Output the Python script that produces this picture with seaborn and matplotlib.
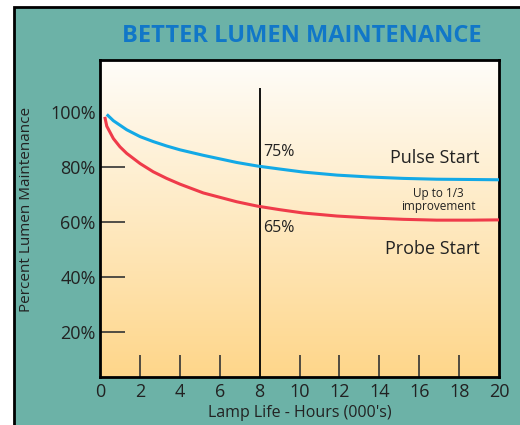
import numpy as np
import pandas as pd
import seaborn as sns
import matplotlib.pyplot as plt
from matplotlib.patches import Rectangle
from matplotlib.colors import LinearSegmentedColormap

# lamp life (000's hours) vs percent lumen maintenance
pulse_hours = [0.34, 0.67, 1.34, 2.01, 2.67, 3.34, 4.01, 5.18, 6.85, 7.89, 9.02, 10.19,
               11.87, 13.54, 15.2, 16.88, 18.55, 20.0]
pulse_pct = [99.2, 96.9, 93.6, 91.1, 89.3, 87.7, 86.3, 84.3, 81.7, 80.4, 79.3, 78.2,
             77.1, 76.4, 75.9, 75.6, 75.5, 75.4]
probe_hours = [0.24, 0.34, 0.67, 1.0, 1.34, 2.01, 2.67, 3.34, 4.01, 5.18, 6.85, 7.89,
               9.02, 10.19, 11.87, 13.54, 15.2, 16.88, 18.55, 20.0]
probe_pct = [98.3, 94.9, 90.4, 87.4, 85.0, 81.3, 78.3, 75.9, 73.8, 70.6, 67.4, 65.8,
             64.5, 63.3, 62.2, 61.5, 61.0, 60.7, 60.7, 60.8]

x_ticks = [0, 2, 4, 6, 8, 10, 12, 14, 16, 18, 20]
y_ticks = [20, 40, 60, 80, 100]
y_tick_labels = ['20%', '40%', '60%', '80%', '100%']

df = pd.concat([
    pd.DataFrame({'hours': pulse_hours, 'pct': pulse_pct, 'lamp': 'Pulse Start'}),
    pd.DataFrame({'hours': probe_hours, 'pct': probe_pct, 'lamp': 'Probe Start'}),
])

sns.set_style('ticks')
plt.rcParams['font.family'] = ['Open Sans', 'DejaVu Sans']

teal = '#6cb2a7'
fig = plt.figure(figsize=(5.2, 4.25), dpi=100)
bg = Rectangle((14 / 520, -0.1), 1.2, 1.1 - 7 / 425, transform=fig.transFigure,
               facecolor=teal, edgecolor='black', linewidth=2, zorder=-10)
fig.add_artist(bg)

ax = fig.add_axes([100 / 520, 48 / 425, 399 / 520, 317 / 425])
ylo, yhi = 3.6, 119
ax.set_xlim(0, 20)
ax.set_ylim(ylo, yhi)

# cream to orange gradient background
cmap = LinearSegmentedColormap.from_list('bg', ['#fffdf9', '#fed68a'])
grad = np.linspace(0, 1, 256).reshape(-1, 1)
ax.imshow(grad, extent=[0, 20, ylo, yhi], origin='upper', aspect='auto', cmap=cmap, zorder=0)

sns.lineplot(data=df, x='hours', y='pct', hue='lamp', palette={'Pulse Start': '#13a9e6', 'Probe Start': '#ef3b4a'},
             linewidth=2.2, legend=False, ax=ax, zorder=3, solid_joinstyle='round', solid_capstyle='butt')

ax.vlines(8, ylo, 108.7, color='black', linewidth=1.3, zorder=2)

ax.set_xticks(x_ticks)
ax.set_xticklabels([str(t) for t in x_ticks])
ax.set_yticks(y_ticks)
ax.set_yticklabels(y_tick_labels)
ax.tick_params(axis='x', direction='in', length=16, width=1.2, color='#333333', labelsize=13, pad=4, labelcolor='#222222')
ax.tick_params(axis='y', direction='in', length=18, width=1.2, color='#333333', labelsize=13, pad=3, labelcolor='#222222')
for i, t in enumerate(ax.xaxis.get_major_ticks()):
    if x_ticks[i] in (0, 8, 20):
        t.tick1line.set_visible(False)
ax.yaxis.get_major_ticks()[-1].tick1line.set_visible(False)

for s in ax.spines.values():
    s.set_linewidth(2)
    s.set_color('black')

ax.set_xlabel("Lamp Life - Hours (000's)", fontsize=11.5, color='#222222', labelpad=3)
ax.set_ylabel('Percent Lumen Maintenance', fontsize=11, color='#222222', labelpad=4)
ax.yaxis.set_label_coords(-0.165, 0.53)

ax.text(8.17, 85.5, '75%', fontsize=11.5, va='center', ha='left', color='#222222')
ax.text(8.17, 57.8, '65%', fontsize=11.5, va='center', ha='left', color='#222222')
ax.text(19.02, 83.5, 'Pulse Start', fontsize=13, va='center', ha='right', color='#222222')
ax.text(19.05, 50.2, 'Probe Start', fontsize=13, va='center', ha='right', color='#222222')
ax.text(16.94, 68, 'Up to 1/3\nimprovement', fontsize=8.5, va='center', ha='center', color='#222222',
        linespacing=0.95)

fig.text(302 / 520, 1 - 36 / 425, 'BETTER LUMEN MAINTENANCE', fontsize=17, fontweight='bold',
         color='#1177c8', ha='center', va='center')

fig.savefig('out.png', dpi=100)
